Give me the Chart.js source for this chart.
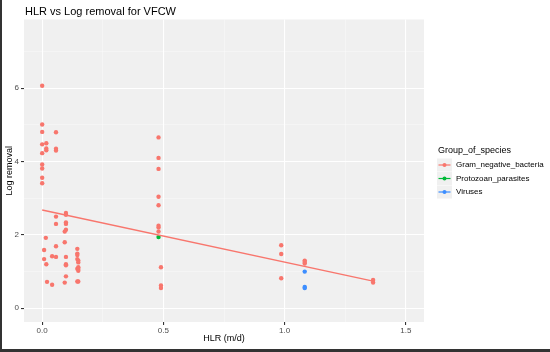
<!DOCTYPE html>
<html>
<head>
<meta charset="utf-8">
<script src="https://cdn.jsdelivr.net/npm/chart.js@4/dist/chart.umd.min.js"></script>
<style>
  html, body { margin: 0; padding: 0; background: #fff; }
  #wrap { width: 550px; height: 352px; }
</style>
</head>
<body>
<div id="wrap"><canvas id="chart" width="550" height="352"></canvas></div>
<script>
// values
const gramX = [0, 0, 0, 0, 0, 0, 0, 0, 0,
  0.017, 0.017, 0.017, 0.057, 0.057, 0.057,
  0.015, 0.008, 0.008, 0.017, 0.041, 0.057, 0.057, 0.057, 0.057, 0.02, 0.041,
  0.098, 0.098, 0.098, 0.098, 0.098, 0.093, 0.093, 0.098, 0.098, 0.098, 0.098, 0.093,
  0.145, 0.145, 0.145, 0.145, 0.149, 0.149, 0.149, 0.145, 0.149, 0.149, 0.145, 0.149,
  0.48, 0.48, 0.48, 0.48, 0.48, 0.48, 0.48, 0.48, 0.49, 0.49, 0.49,
  0.986, 0.986, 0.986, 1.083, 1.083, 1.083, 1.365, 1.365];
const gramY = [6.07, 5.01, 4.81, 4.47, 4.23, 3.92, 3.81, 3.56, 3.41,
  4.50, 4.36, 4.31, 4.80, 4.35, 4.30,
  1.92, 1.59, 1.34, 1.20, 1.42, 1.40, 1.69, 2.50, 2.30, 0.72, 0.64,
  2.60, 2.55, 2.34, 2.30, 2.14, 2.09, 1.80, 1.40, 1.20, 1.17, 0.87, 0.70,
  1.62, 1.49, 1.45, 1.34, 1.30, 1.25, 1.12, 1.08, 1.07, 1.02, 0.73, 0.73,
  4.66, 4.10, 3.80, 3.04, 2.81, 2.25, 2.20, 2.09, 1.12, 0.62, 0.55,
  1.72, 1.48, 0.82, 1.30, 1.26, 1.22, 0.77, 0.70];
const protoX = [0.48];
const protoY = [1.94];
const virusX = [1.083, 1.083, 1.083];
const virusY = [1.00, 0.58, 0.55];
// lm fit line for Gram_negative_bacteria, end points
const fitX = [0, 1.365];
const fitY = [2.68, 0.74];

const groups = ['Gram_negative_bacteria', 'Protozoan_parasites', 'Viruses'];
const groupColors = ['#F8766D', '#00BA38', '#3D8EFF'];

const xTicks = [0, 0.25, 0.5, 0.75, 1, 1.25, 1.5];
const xMajor = [0, 0.5, 1, 1.5];
const yTicks = [0, 1, 2, 3, 4, 5, 6, 7];
const yMajor = [0, 2, 4, 6];

const FONT = '"Liberation Sans", Arial, sans-serif';

function toPoints(xs, ys) {
  return xs.map((x, i) => ({ x: x, y: ys[i] }));
}

// ggplot-like decorations: panel, title, axis titles, legend, frame
const ggPlot = {
  id: 'ggPlot',
  beforeDraw(chart) {
    const c = chart.ctx;
    const a = chart.chartArea;
    c.save();
    c.fillStyle = '#fff';
    c.fillRect(0, 0, chart.width, chart.height);
    c.fillStyle = '#f0f0f0';
    c.fillRect(a.left, a.top, a.right - a.left, a.bottom - a.top);
    c.restore();
  },
  afterDraw(chart) {
    const c = chart.ctx;
    const a = chart.chartArea;
    c.save();
    c.fillStyle = '#000';
    c.textBaseline = 'middle';

    c.font = '11px ' + FONT;
    c.textAlign = 'left';
    c.fillText('HLR vs Log removal for VFCW', 25, 12);

    c.font = '9px ' + FONT;
    c.textAlign = 'center';
    c.fillText('HLR (m/d)', (a.left + a.right) / 2, 339);

    c.save();
    c.translate(10, (a.top + a.bottom) / 2);
    c.rotate(-Math.PI / 2);
    c.fillText('Log removal', 0, 0);
    c.restore();

    // legend
    c.textAlign = 'left';
    c.font = '9px ' + FONT;
    c.fillText('Group_of_species', 438, 151);
    c.font = '8px ' + FONT;
    groups.forEach((g, i) => {
      const y = 165 + i * 13.5;
      c.fillStyle = '#f0f0f0';
      c.fillRect(437, y - 6.5, 15, 13);
      c.strokeStyle = groupColors[i];
      c.lineWidth = 1.2;
      c.beginPath();
      c.moveTo(438.5, y);
      c.lineTo(450.5, y);
      c.stroke();
      c.fillStyle = groupColors[i];
      c.beginPath();
      c.arc(444.5, y, 2, 0, Math.PI * 2);
      c.fill();
      c.fillStyle = '#000';
      c.fillText(g, 456, y);
    });

    // outer frame of the screenshot
    c.fillStyle = '#333';
    c.fillRect(0, 0, 2, chart.height);
    c.fillRect(0, chart.height - 3, chart.width, 3);
    c.restore();
  }
};

const ctx = document.getElementById('chart').getContext('2d');
new Chart(ctx, {
  type: 'scatter',
  data: {
    datasets: [
      {
        type: 'line',
        label: 'fit',
        data: toPoints(fitX, fitY),
        borderColor: groupColors[0],
        borderWidth: 1.4,
        pointRadius: 0,
        fill: false,
        order: 0
      },
      {
        label: groups[0],
        data: toPoints(gramX, gramY),
        backgroundColor: groupColors[0],
        borderWidth: 0,
        pointRadius: 2.2,
        order: 1
      },
      {
        label: groups[1],
        data: toPoints(protoX, protoY),
        backgroundColor: groupColors[1],
        borderWidth: 0,
        pointRadius: 2.2,
        order: 0
      },
      {
        label: groups[2],
        data: toPoints(virusX, virusY),
        backgroundColor: groupColors[2],
        borderWidth: 0,
        pointRadius: 2.2,
        order: 0
      }
    ]
  },
  options: {
    responsive: false,
    animation: false,
    devicePixelRatio: 1,
    layout: { padding: { top: 19.5, right: 126, left: 0, bottom: 0 } },
    plugins: {
      legend: { display: false },
      title: { display: false },
      tooltip: { enabled: false }
    },
    scales: {
      x: {
        type: 'linear',
        min: -0.075,
        max: 1.575,
        afterBuildTicks: (scale) => { scale.ticks = xTicks.map(v => ({ value: v })); },
        afterFit: (scale) => { scale.height = 30; },
        border: { display: false },
        grid: {
          color: (c) => xMajor.includes(c.tick.value) ? '#ffffff' : 'rgba(255,255,255,0.55)',
          lineWidth: (c) => xMajor.includes(c.tick.value) ? 1.1 : 0.6,
          tickColor: (c) => xMajor.includes(c.tick.value) ? '#333' : 'rgba(0,0,0,0)',
          tickLength: 3
        },
        ticks: {
          autoSkip: false,
          maxRotation: 0,
          padding: 1,
          color: '#4d4d4d',
          font: { family: FONT, size: 8 },
          callback: (v) => xMajor.includes(v) ? v.toFixed(1) : ''
        }
      },
      y: {
        type: 'linear',
        min: -0.375,
        max: 7.875,
        afterBuildTicks: (scale) => { scale.ticks = yTicks.map(v => ({ value: v })); },
        afterFit: (scale) => { scale.width = 24; },
        border: { display: false },
        grid: {
          color: (c) => yMajor.includes(c.tick.value) ? '#ffffff' : 'rgba(255,255,255,0.55)',
          lineWidth: (c) => yMajor.includes(c.tick.value) ? 1.1 : 0.6,
          tickColor: (c) => yMajor.includes(c.tick.value) ? '#333' : 'rgba(0,0,0,0)',
          tickLength: 3
        },
        ticks: {
          autoSkip: false,
          padding: 2,
          color: '#4d4d4d',
          font: { family: FONT, size: 8 },
          callback: (v) => yMajor.includes(v) ? String(v) : ''
        }
      }
    }
  },
  plugins: [ggPlot]
});
</script>
</body>
</html>
